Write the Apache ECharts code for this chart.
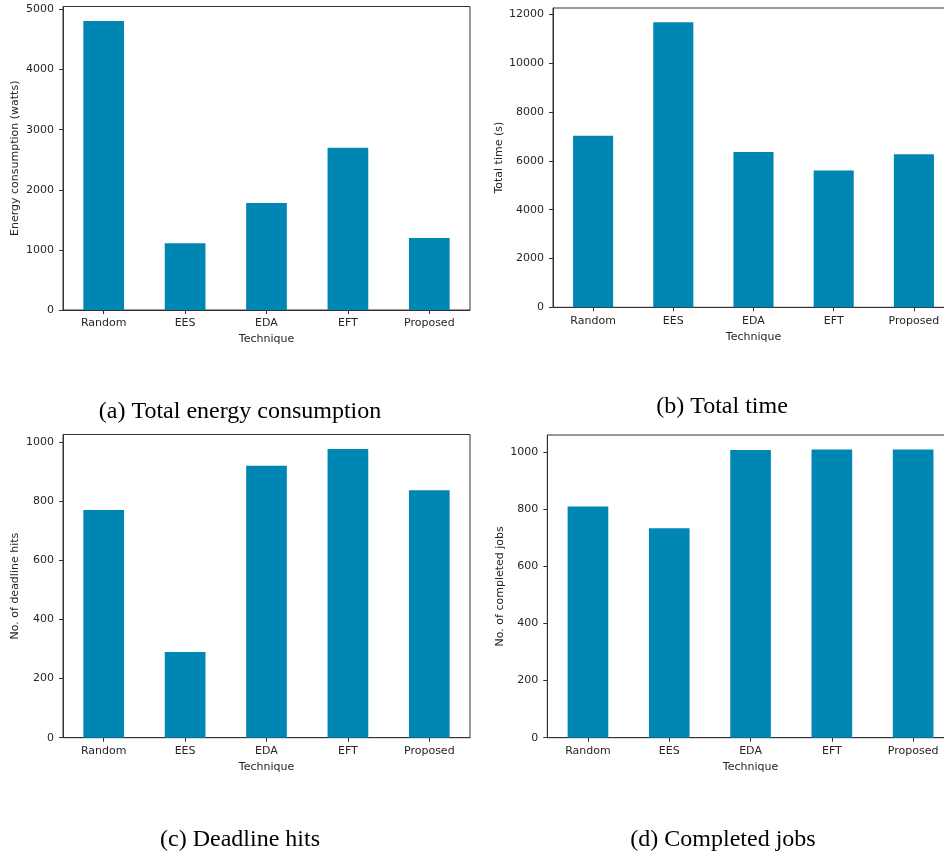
<!DOCTYPE html>
<html>
<head>
<meta charset="utf-8">
<script src="https://cdn.jsdelivr.net/npm/echarts@6/dist/echarts.min.js"></script>
<style>
html,body{margin:0;padding:0;background:#fff;}
#chart{width:944px;height:853px;}
</style>
</head>
<body>
<div id="chart"></div>
<script>
var categories = ['Random', 'EES', 'EDA', 'EFT', 'Proposed'];
var energyValues = [4810, 1110, 1780, 2700, 1200];
var timeValues = [7030, 11680, 6360, 5610, 6270];
var deadlineValues = [770, 290, 920, 977, 837];
var completedValues = [809, 733, 1007, 1009, 1009];
var energyTicks = [0, 1000, 2000, 3000, 4000, 5000];
var timeTicks = [0, 2000, 4000, 6000, 8000, 10000, 12000];
var deadlineTicks = [0, 200, 400, 600, 800, 1000];
var completedTicks = [0, 200, 400, 600, 800, 1000];
var yNames = ['Energy consumption (watts)', 'Total time (s)', 'No. of deadline hits', 'No. of completed jobs'];
var captions = ['(a) Total energy consumption', '(b) Total time', '(c) Deadline hits', '(d) Completed jobs'];

var panels = [
  {vals: energyValues, ticks: energyTicks, grid: {left: 63, top: 6.5, width: 407, height: 303.5}, yGap: 42, cap: {x: 235, y: 395}},
  {vals: timeValues, ticks: timeTicks, grid: {left: 553, top: 8, width: 401, height: 299.3}, yGap: 42, cap: {x: 717, y: 390}},
  {vals: deadlineValues, ticks: deadlineTicks, grid: {left: 63, top: 434.5, width: 407, height: 303.2}, yGap: 42, cap: {x: 235, y: 823}},
  {vals: completedValues, ticks: completedTicks, grid: {left: 547.3, top: 435, width: 406.5, height: 302.7}, yGap: 42, cap: {x: 718, y: 823}}
];

var axisColor = '#333333';
var textColor = '#262626';
var font = 'DejaVu Sans';
var barColor = '#0086b3';

var grids = [], xAxes = [], yAxes = [], series = [], titles = [];
panels.forEach(function (p, i) {
  grids.push({
    left: p.grid.left, top: p.grid.top, width: p.grid.width, height: p.grid.height,
    show: true, borderColor: axisColor, borderWidth: 1, backgroundColor: 'transparent',
    containLabel: false, outerBoundsMode: 'none'
  });
  xAxes.push({
    type: 'category', gridIndex: i, data: categories, boundaryGap: true,
    axisLine: {show: true, lineStyle: {color: axisColor, width: 1}},
    axisTick: {show: true, alignWithLabel: true, length: 4, lineStyle: {color: axisColor}},
    axisLabel: {color: textColor, fontSize: 11, fontFamily: font, margin: 8, interval: 0},
    splitLine: {show: false},
    name: 'Technique', nameLocation: 'middle', nameGap: 24,
    nameTextStyle: {color: textColor, fontSize: 11, fontFamily: font}
  });
  var mx = Math.max.apply(null, p.vals) * 1.05;
  yAxes.push({
    type: 'value', gridIndex: i, min: 0, max: mx,
    axisLine: {show: true, lineStyle: {color: axisColor, width: 1}},
    axisTick: {show: true, length: 4, lineStyle: {color: axisColor}, customValues: p.ticks},
    axisLabel: {color: textColor, fontSize: 11, fontFamily: font, margin: 9, customValues: p.ticks,
      formatter: function (v) { return String(Math.round(v)); }},
    splitLine: {show: false},
    name: yNames[i], nameLocation: 'middle', nameGap: p.yGap, nameRotate: 90,
    nameTextStyle: {color: textColor, fontSize: 11, fontFamily: font}
  });
  series.push({
    type: 'bar', xAxisIndex: i, yAxisIndex: i, data: p.vals, barWidth: '50%',
    itemStyle: {color: barColor}, animation: false, silent: true
  });
  titles.push({
    text: captions[i], left: p.cap.x, top: p.cap.y, textAlign: 'center',
    textStyle: {fontFamily: 'Liberation Serif', fontSize: 24, fontWeight: 'normal', color: '#000'}
  });
});

var chart = echarts.init(document.getElementById('chart'), null, {renderer: 'canvas'});
chart.setOption({
  animation: false,
  backgroundColor: '#ffffff',
  title: titles,
  grid: grids,
  xAxis: xAxes,
  yAxis: yAxes,
  series: series
});
</script>
</body>
</html>
